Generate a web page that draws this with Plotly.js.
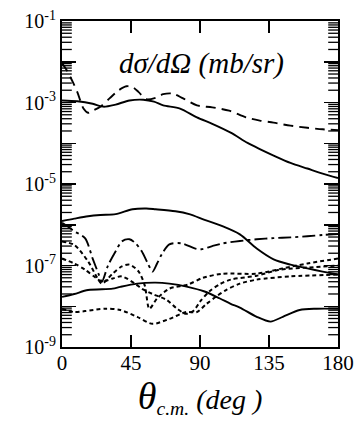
<!DOCTYPE html>
<html><head><meta charset="utf-8">
<script src="https://cdn.plot.ly/plotly-3.0.1.min.js"></script>
<style>html,body{margin:0;padding:0;background:#fff}#chart{width:358px;height:432px}</style>
</head><body><div id="chart"></div>
<script>
const thA = [0,10,20,27,35,44,53,60,66,77,88,98,110,121,129,138,149,160,170,180];
const valA = [1.12e-3,1.07e-3,9.3e-4,7.9e-4,8.9e-4,1.12e-3,1.17e-3,1.05e-3,8.5e-4,7.1e-4,4.3e-4,3.0e-4,1.82e-4,1.02e-4,7.2e-5,5.0e-5,3.3e-5,2.4e-5,1.8e-5,1.4e-5];
const thB = [0,3,7,10,14,17,20,25,31,37,42,46,50,55,61,66,72,79,88,98,109,120,129,138,149,160,170,180];
const valB = [9.3e-3,6.3e-3,3.2e-3,1.8e-3,7.1e-4,5.6e-4,6.3e-4,7.9e-4,1.26e-3,2.0e-3,2.5e-3,2.4e-3,1.8e-3,1.2e-3,1.3e-3,1.6e-3,1.66e-3,1.26e-3,8.5e-4,7.6e-4,6.3e-4,4.3e-4,3.6e-4,3.2e-4,2.7e-4,2.4e-4,2.2e-4,2.1e-4];
const thC = [0,8,17,25,35,46,55,61,74,83,93,105,116,127,138,149,160,170,180];
const valC = [1.23e-6,1.41e-6,1.62e-6,1.74e-6,1.82e-6,2.4e-6,2.5e-6,2.4e-6,2.14e-6,1.82e-6,1.32e-6,9.1e-7,5.8e-7,2.6e-7,1.41e-7,1.05e-7,8.5e-8,7.1e-8,6.0e-8];
const thD = [0,4,8,15,20,24,26,30,35,39,44,48,52,56,59,62,65,70,78,87,91,98,105,116,127,138,149,160,170,180];
const valD = [1.12e-6,8.9e-7,6.9e-7,4.7e-7,1.48e-7,6.0e-8,4.0e-8,1.0e-7,2.24e-7,3.9e-7,4.4e-7,3.5e-7,2.24e-7,1.12e-7,7.1e-8,1.12e-7,1.86e-7,3.3e-7,3.5e-7,2.6e-7,2.5e-7,3.0e-7,3.5e-7,4.0e-7,4.4e-7,4.7e-7,4.9e-7,5.2e-7,5.6e-7,5.9e-7];
const thE = [0,8,17,23,26,33,39,44,50,54,57,62,70,82,92,105,127,144,160,180];
const valE = [3.9e-7,3.2e-7,1.26e-7,5.0e-8,3.6e-8,6.3e-8,9.5e-8,1.05e-7,7.1e-8,3.2e-8,8.7e-9,1.55e-8,2.7e-8,3.4e-8,5.0e-8,6.3e-8,6.3e-8,8.5e-8,1.12e-7,1.48e-7];
const thF = [0,8,15,22,26,33,39,48,52,59,68,75,81,86,90,96,103,110,127,142,160,180];
const valF = [1.48e-7,1.12e-7,7.9e-8,5.0e-8,4.0e-8,4.8e-8,5.4e-8,3.5e-8,2.7e-8,2.0e-8,1.45e-8,8.7e-9,6.5e-9,7.9e-9,1.29e-8,2.3e-8,3.5e-8,4.5e-8,5.6e-8,7.9e-8,8.9e-8,1.0e-7];
const thG = [0,8,15,28,38,49,59,70,81,88,94,101,107,116,127,149,180];
const valG = [8.7e-9,7.2e-9,7.6e-9,8.7e-9,8.1e-9,5.5e-9,3.7e-9,4.9e-9,7.2e-9,7.2e-9,1.12e-8,1.78e-8,2.5e-8,3.6e-8,4.5e-8,5.4e-8,6.0e-8];
const thH = [0,8,17,33,38,49,61,70,82,93,103,110,116,127,136,144,155,166,180];
const valH = [1.7e-8,2.0e-8,2.5e-8,2.7e-8,3.0e-8,3.6e-8,3.8e-8,3.6e-8,3.0e-8,2.3e-8,1.55e-8,1.15e-8,9.3e-9,5.5e-9,4.2e-9,5.5e-9,8.1e-9,8.7e-9,8.7e-9];

const xTicks = [0,45,90,135,180];
const xRange = [0,180];
const decades = [-9,-8,-7,-6,-5,-4,-3,-2,-1];
const labelled = [-9,-7,-5,-3,-1];
const minorDigits = [2,3,4,5,6,7,8,9];
const yTickVals = decades.map(function(p){return Math.pow(10,p);});
const yTickText = decades.map(function(p){return labelled.indexOf(p) >= 0 ? '10<sup>' + p + '</sup>' : '';});
// minor log tick positions (2..9 within each decade)
const minorVals = [];
decades.slice(0,-1).forEach(function(p){minorDigits.forEach(function(d){minorVals.push(d*Math.pow(10,p));});});

const serif = '"Liberation Serif", "Times New Roman", Times, serif';
function tr(x,y,dash,w){return {x:x,y:y,type:'scatter',mode:'lines',line:{color:'#000',width:w||1.9,dash:dash,shape:'spline',smoothing:0.8},hoverinfo:'skip'};}
function minorTicks(edge){return {x:minorVals.map(function(){return edge;}),y:minorVals,type:'scatter',mode:'markers',cliponaxis:true,
  marker:{symbol:'line-ew',size:14,color:'#000',line:{color:'#000',width:1.3}},hoverinfo:'skip'};}
const data = [
  tr(thA,valA,'solid'),
  tr(thB,valB,'10px,6px'),
  tr(thC,valC,'solid'),
  tr(thD,valD,'13px,4px,3px,4px'),
  tr(thE,valE,'4px,3px',2),
  tr(thF,valF,'4px,3px',2),
  tr(thG,valG,'4px,3px',2),
  tr(thH,valH,'solid'),
  minorTicks(xRange[0]),
  minorTicks(xRange[1])
];
const layout = {
  width:358,height:432,
  margin:{l:62,r:20,t:21,b:85},
  paper_bgcolor:'#fff',plot_bgcolor:'#fff',
  showlegend:false,
  font:{family:serif,color:'#000',size:20},
  xaxis:{range:xRange,tickmode:'array',tickvals:xTicks,ticktext:xTicks.map(String),ticks:'inside',ticklen:12,tickwidth:1.5,tickcolor:'#000',
    showline:true,linecolor:'#000',linewidth:2,mirror:'ticks',showgrid:false,zeroline:false,ticklabelstandoff:-4,
    tickfont:{family:serif,size:21,color:'#000'},
    title:{text:'<span style="font-size:38px"><i>θ</i></span><sub><i>c.m.</i></sub> <i>(deg )</i>',font:{family:serif,size:28,color:'#000'},standoff:8}},
  yaxis:{type:'log',range:[-9,-1],tickmode:'array',tickvals:yTickVals,ticktext:yTickText,ticks:'inside',ticklen:14,tickwidth:1.5,tickcolor:'#000',
    showline:true,linecolor:'#000',linewidth:2,mirror:'ticks',showgrid:false,zeroline:false,
    tickfont:{family:serif,size:20,color:'#000'}},
  annotations:[{text:'<i>dσ/dΩ (mb/sr)</i>',xref:'paper',yref:'paper',x:0.507,y:0.871,xanchor:'center',yanchor:'middle',showarrow:false,font:{family:serif,size:29,color:'#000'}}]
};
Plotly.newPlot('chart',data,layout,{staticPlot:true,displayModeBar:false});
</script></body></html>
